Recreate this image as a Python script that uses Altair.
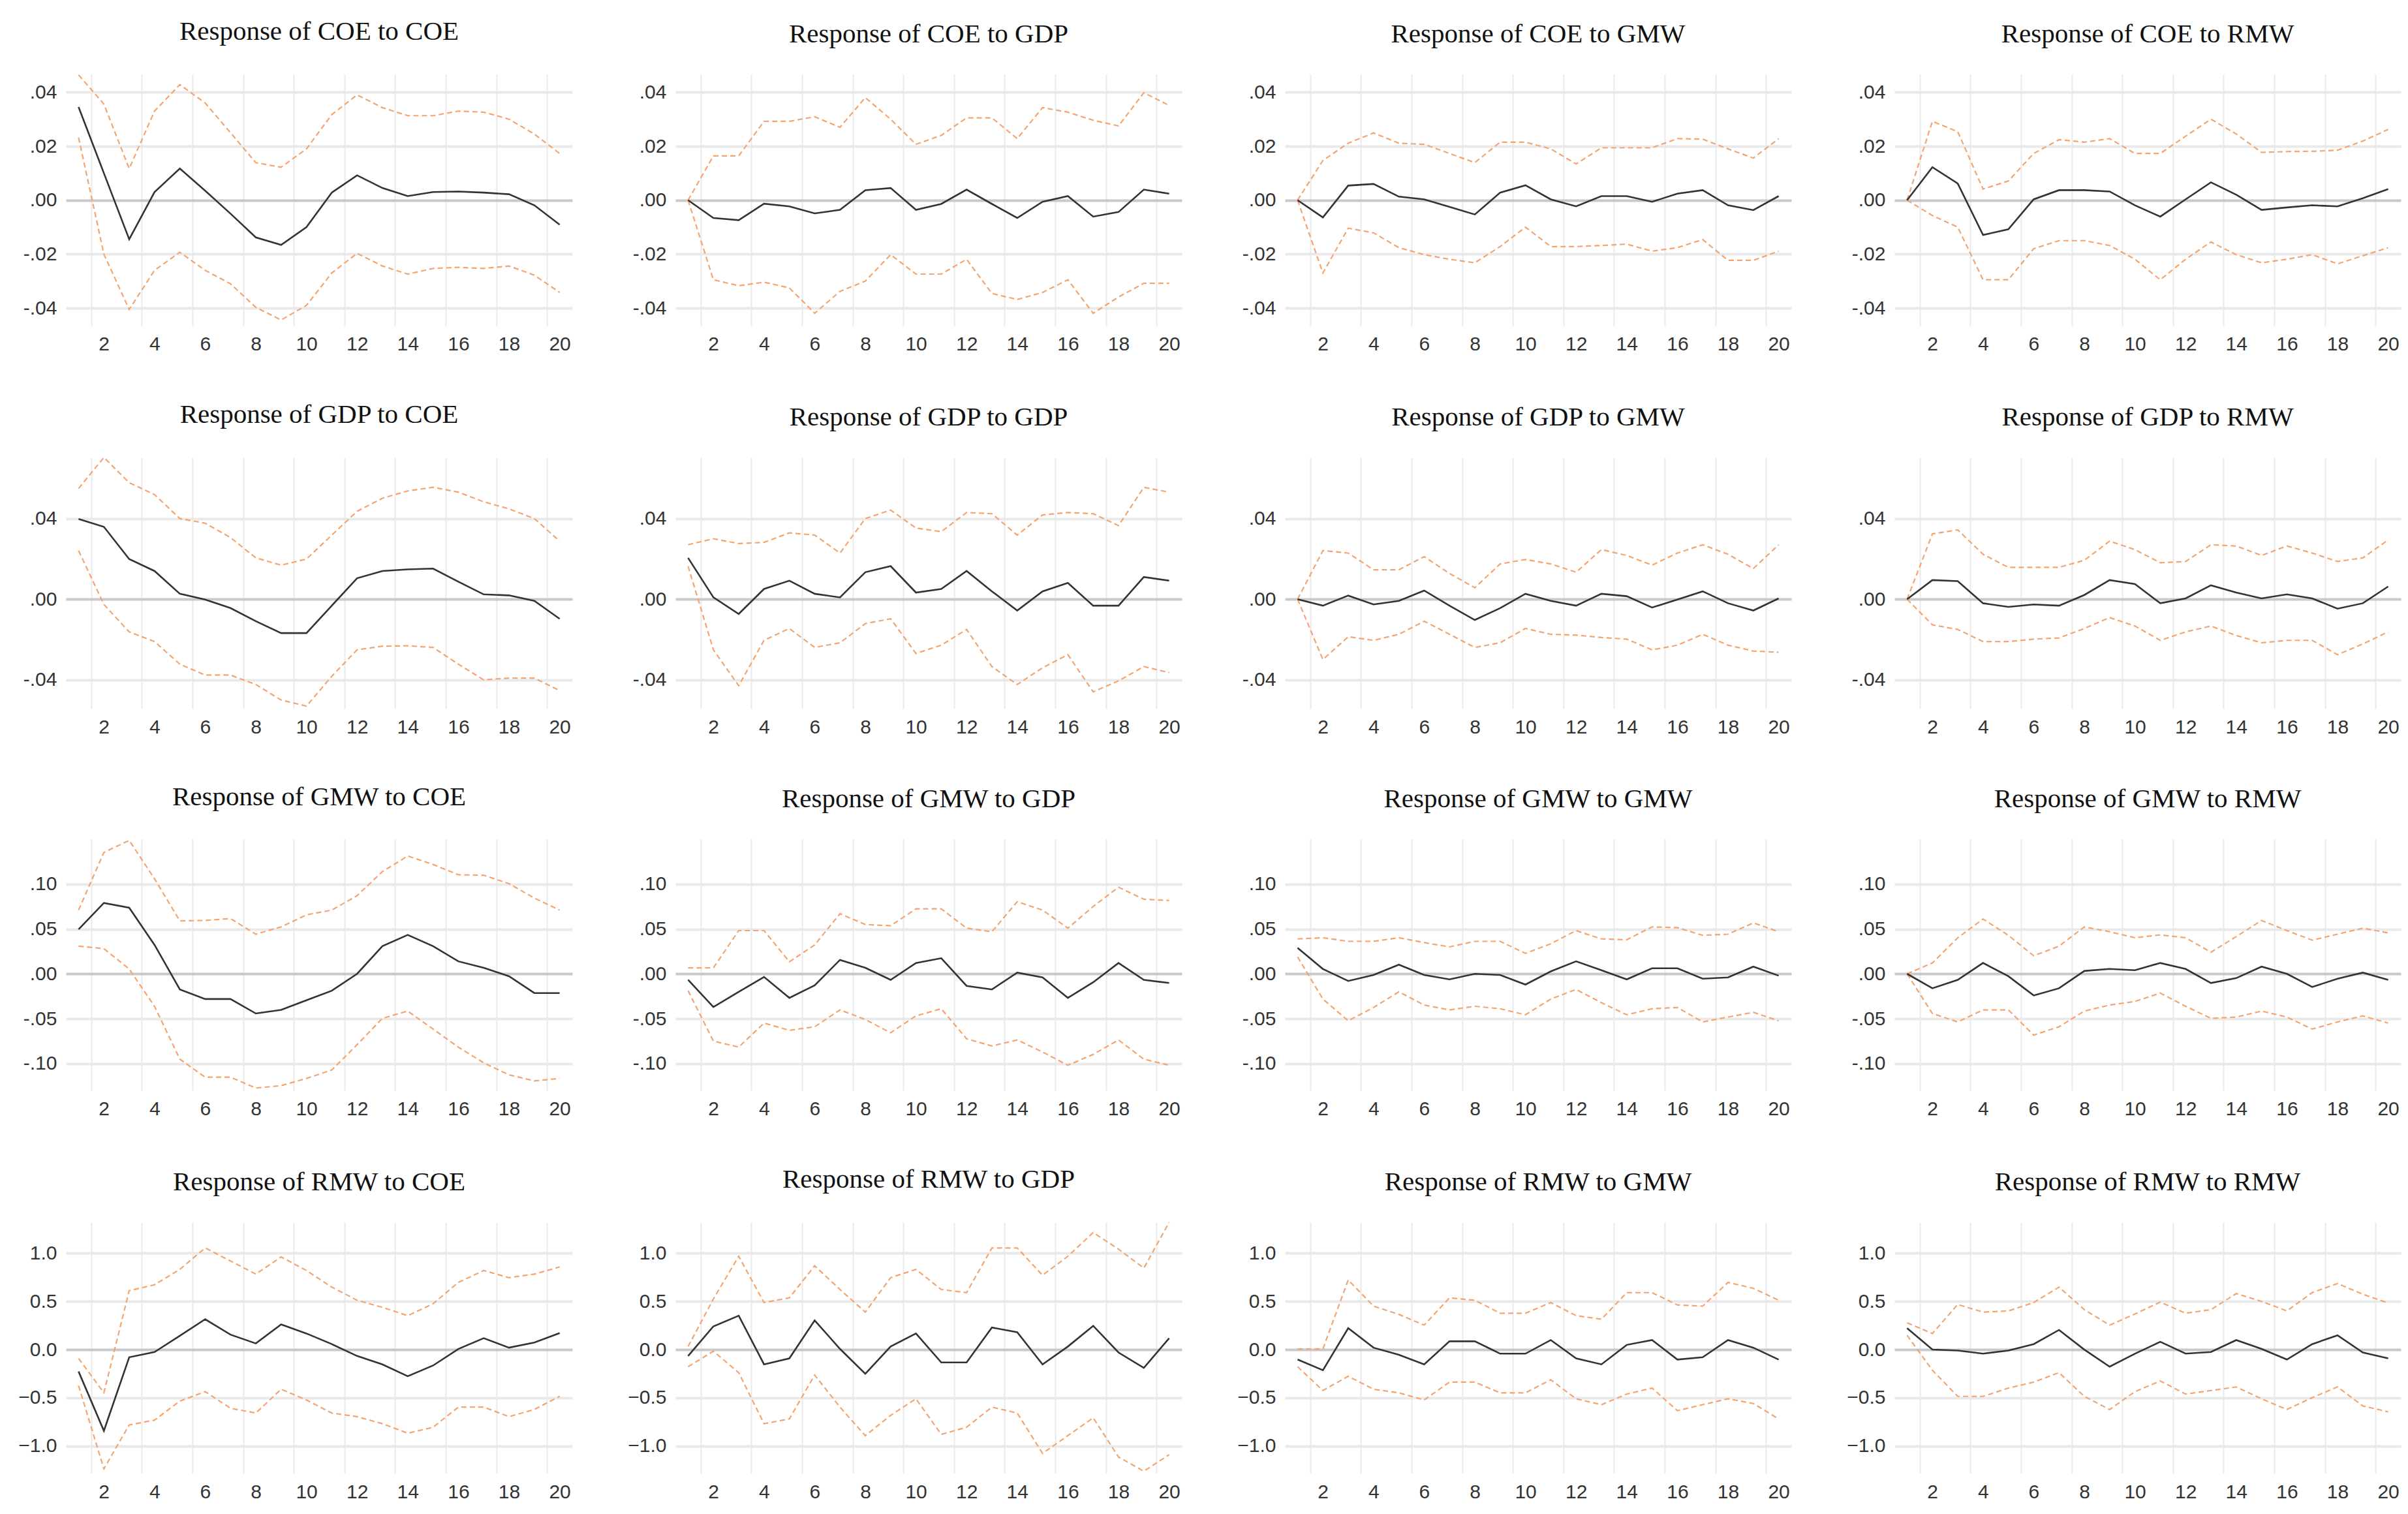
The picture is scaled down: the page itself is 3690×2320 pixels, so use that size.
import altair as alt
import pandas as pd

periods = list(range(1, 21))
variables = ["COE", "GDP", "GMW", "RMW"]

# ---- Response of COE ----
coe_coe_mid = [0.0345, 0.010, -0.0145, 0.003, 0.0117, 0.0035, -0.005, -0.0138, -0.0166, -0.010, 0.0028, 0.0092, 0.0045, 0.0015, 0.003, 0.0032, 0.0028, 0.0022, -0.0019, -0.0091]
coe_coe_up = [0.0464, 0.0356, 0.0117, 0.033, 0.0428, 0.036, 0.025, 0.0139, 0.0122, 0.019, 0.0317, 0.039, 0.0343, 0.0313, 0.0313, 0.033, 0.0326, 0.030, 0.0245, 0.0173]
coe_coe_lo = [0.0232, -0.020, -0.0405, -0.026, -0.0193, -0.026, -0.031, -0.0397, -0.0444, -0.039, -0.027, -0.0197, -0.0244, -0.0274, -0.0253, -0.0249, -0.0253, -0.0244, -0.0278, -0.0342]

coe_gdp_mid = [0.0, -0.0066, -0.0074, -0.0013, -0.0023, -0.0049, -0.0036, 0.0037, 0.0045, -0.0036, -0.0014, 0.0039, -0.0014, -0.0066, -0.0006, 0.0015, -0.0061, -0.0044, 0.0039, 0.0024]
coe_gdp_up = [0.0, 0.0164, 0.0164, 0.0292, 0.0292, 0.0309, 0.027, 0.038, 0.030, 0.0207, 0.024, 0.0305, 0.0305, 0.0228, 0.0343, 0.0326, 0.0296, 0.0275, 0.0398, 0.0351]
coe_gdp_lo = [0.0, -0.0295, -0.0317, -0.0304, -0.0325, -0.0419, -0.0338, -0.030, -0.0202, -0.0274, -0.0274, -0.0219, -0.0346, -0.0368, -0.0342, -0.0295, -0.0419, -0.0359, -0.0308, -0.0308]

coe_gmw_mid = [0.0, -0.0064, 0.0054, 0.006, 0.0013, 0.0003, -0.0025, -0.0053, 0.0028, 0.0055, 0.0003, -0.0023, 0.0015, 0.0015, -0.0006, 0.0024, 0.0037, -0.0019, -0.0037, 0.0015]
coe_gmw_up = [0.0, 0.0147, 0.0211, 0.0249, 0.0211, 0.0207, 0.0173, 0.0139, 0.0215, 0.0215, 0.019, 0.0134, 0.0194, 0.0194, 0.0194, 0.0228, 0.0226, 0.019, 0.0156, 0.0228]
coe_gmw_lo = [0.0, -0.027, -0.0104, -0.0121, -0.0176, -0.0202, -0.0219, -0.0232, -0.0172, -0.010, -0.0172, -0.0172, -0.0168, -0.0163, -0.0189, -0.0176, -0.0146, -0.0223, -0.0223, -0.0189]

coe_rmw_mid = [0.0, 0.0122, 0.0062, -0.0129, -0.0108, 0.0003, 0.0037, 0.0037, 0.0032, -0.0019, -0.0061, 0.0003, 0.0066, 0.002, -0.0036, -0.0027, -0.0019, -0.0023, 0.0007, 0.0041]
coe_rmw_up = [0.0, 0.0292, 0.0254, 0.0041, 0.0071, 0.0173, 0.0224, 0.0215, 0.0228, 0.0173, 0.0173, 0.0237, 0.030, 0.0245, 0.0177, 0.018, 0.0181, 0.0185, 0.0219, 0.0262]
coe_rmw_lo = [0.0, -0.0057, -0.010, -0.0295, -0.0295, -0.018, -0.015, -0.015, -0.0168, -0.0219, -0.0295, -0.0219, -0.0155, -0.0202, -0.0232, -0.0219, -0.0202, -0.0236, -0.0206, -0.0176]

# ---- Response of GDP ----
gdp_coe_mid = [0.0398, 0.0359, 0.0199, 0.014, 0.0027, -0.0002, -0.0044, -0.0109, -0.0168, -0.0168, -0.0032, 0.0104, 0.014, 0.0148, 0.0152, 0.0087, 0.0024, 0.0019, -0.0008, -0.0097]
gdp_coe_up = [0.0549, 0.0703, 0.0578, 0.0519, 0.040, 0.0377, 0.0306, 0.0205, 0.0169, 0.0199, 0.0318, 0.0436, 0.0501, 0.0537, 0.0555, 0.0531, 0.0483, 0.0448, 0.040, 0.0288]
gdp_coe_lo = [0.0241, -0.0026, -0.0162, -0.021, -0.0322, -0.0376, -0.0376, -0.0423, -0.050, -0.053, -0.0382, -0.0251, -0.0233, -0.0231, -0.0239, -0.0322, -0.040, -0.0391, -0.0391, -0.0453]

gdp_gdp_mid = [0.0205, 0.0009, -0.0073, 0.0051, 0.0092, 0.0027, 0.0009, 0.0134, 0.0164, 0.0033, 0.0051, 0.014, 0.0039, -0.0056, 0.0039, 0.0081, -0.0032, -0.0032, 0.011, 0.0092]
gdp_gdp_up = [0.027, 0.030, 0.0276, 0.0282, 0.0329, 0.0318, 0.0229, 0.040, 0.0442, 0.0353, 0.0335, 0.043, 0.0424, 0.0318, 0.0418, 0.043, 0.0424, 0.0365, 0.0555, 0.0531]
gdp_gdp_lo = [0.0164, -0.0251, -0.0429, -0.0204, -0.0145, -0.0239, -0.0216, -0.0121, -0.0097, -0.0269, -0.0228, -0.015, -0.0334, -0.0423, -0.034, -0.0275, -0.0459, -0.0405, -0.0334, -0.0364]

gdp_gmw_mid = [0.0, -0.0032, 0.0018, -0.0026, -0.0008, 0.0043, -0.0032, -0.0103, -0.0044, 0.0027, -0.0008, -0.0032, 0.0027, 0.0015, -0.0041, -0.0002, 0.0039, -0.002, -0.0056, 0.0004]
gdp_gmw_up = [0.0, 0.0241, 0.0229, 0.0146, 0.0146, 0.0211, 0.0128, 0.0057, 0.0175, 0.0197, 0.0175, 0.0134, 0.0246, 0.0217, 0.0169, 0.0229, 0.027, 0.0223, 0.0152, 0.027]
gdp_gmw_lo = [0.0, -0.0299, -0.0186, -0.0204, -0.0174, -0.0109, -0.0174, -0.0239, -0.0216, -0.0145, -0.0174, -0.0178, -0.019, -0.0198, -0.0251, -0.0228, -0.0174, -0.0228, -0.0257, -0.0263]

gdp_rmw_mid = [0.0, 0.0095, 0.009, -0.002, -0.0038, -0.0026, -0.0032, 0.0021, 0.0095, 0.0075, -0.002, 0.0004, 0.0069, 0.0033, 0.0004, 0.0024, 0.0004, -0.0047, -0.002, 0.0063]
gdp_rmw_up = [0.0, 0.0324, 0.0344, 0.0223, 0.0158, 0.0158, 0.0158, 0.0193, 0.0288, 0.0246, 0.0181, 0.0187, 0.027, 0.0264, 0.0217, 0.0264, 0.0229, 0.0187, 0.0205, 0.0294]
gdp_rmw_lo = [0.0, -0.0127, -0.015, -0.021, -0.021, -0.0198, -0.0192, -0.0145, -0.0091, -0.0133, -0.0204, -0.0162, -0.0133, -0.018, -0.0216, -0.0204, -0.0204, -0.0275, -0.0222, -0.0162]

# ---- Response of GMW ----
gmw_coe_mid = [0.0496, 0.079, 0.0737, 0.0322, -0.0174, -0.0281, -0.0281, -0.0442, -0.0402, -0.0295, -0.0188, 0.0, 0.0308, 0.0434, 0.0308, 0.0139, 0.0067, -0.0027, -0.0214, -0.0214]
gmw_coe_up = [0.071, 0.1353, 0.1487, 0.1059, 0.059, 0.0595, 0.0616, 0.0442, 0.0523, 0.0657, 0.071, 0.0871, 0.1139, 0.1313, 0.1219, 0.1104, 0.1099, 0.1005, 0.0844, 0.071]
gmw_coe_lo = [0.0308, 0.0281, 0.0054, -0.0362, -0.0951, -0.1152, -0.1152, -0.1273, -0.1246, -0.1166, -0.1072, -0.079, -0.0496, -0.0415, -0.0616, -0.0817, -0.0992, -0.1126, -0.1193, -0.1166]

gmw_gdp_mid = [-0.0067, -0.037, -0.0201, -0.0035, -0.0268, -0.0129, 0.0155, 0.0067, -0.0067, 0.0121, 0.0174, -0.0134, -0.0174, 0.0013, -0.004, -0.0268, -0.0094, 0.0121, -0.0067, -0.0102]
gmw_gdp_up = [0.0067, 0.0067, 0.0482, 0.0482, 0.0134, 0.0322, 0.067, 0.0549, 0.0536, 0.0724, 0.0724, 0.0509, 0.0469, 0.0804, 0.071, 0.0509, 0.075, 0.0965, 0.0831, 0.0817]
gmw_gdp_lo = [-0.0188, -0.075, -0.0817, -0.0549, -0.063, -0.059, -0.0402, -0.0509, -0.0657, -0.0469, -0.0389, -0.0724, -0.0804, -0.0737, -0.0871, -0.1019, -0.0898, -0.0737, -0.0951, -0.1019]

gmw_gmw_mid = [0.0289, 0.0054, -0.008, -0.0013, 0.0102, -0.0013, -0.0062, 0.0, -0.0013, -0.012, 0.0027, 0.0139, 0.004, -0.0062, 0.0062, 0.0062, -0.0054, -0.004, 0.008, -0.0021]
gmw_gmw_up = [0.0389, 0.0402, 0.0362, 0.0362, 0.0402, 0.0348, 0.030, 0.0362, 0.0362, 0.0228, 0.0335, 0.0482, 0.0389, 0.038, 0.0523, 0.0515, 0.0429, 0.0442, 0.0568, 0.0469]
gmw_gmw_lo = [0.0188, -0.0281, -0.0523, -0.0375, -0.0201, -0.0348, -0.0402, -0.0362, -0.0389, -0.0456, -0.0281, -0.0174, -0.0322, -0.0456, -0.0389, -0.0375, -0.0536, -0.0482, -0.0429, -0.0523]

gmw_rmw_mid = [0.0, -0.0161, -0.0067, 0.0121, -0.0027, -0.0241, -0.0161, 0.0032, 0.0054, 0.004, 0.0121, 0.0054, -0.0102, -0.0048, 0.008, 0.0, -0.0147, -0.0054, 0.0013, -0.0067]
gmw_rmw_up = [0.0, 0.0121, 0.0402, 0.0611, 0.0429, 0.0201, 0.0308, 0.0523, 0.0469, 0.0402, 0.0434, 0.0402, 0.0241, 0.0415, 0.0595, 0.0482, 0.0375, 0.0442, 0.0509, 0.0456]
gmw_rmw_lo = [0.0, -0.0442, -0.0536, -0.0402, -0.0402, -0.0683, -0.059, -0.0415, -0.0348, -0.0308, -0.0214, -0.0362, -0.0496, -0.0482, -0.0415, -0.0482, -0.0616, -0.0536, -0.0469, -0.0549]

# ---- Response of RMW ----
rmw_coe_mid = [-0.227, -0.842, -0.079, -0.025, 0.143, 0.315, 0.155, 0.064, 0.261, 0.167, 0.057, -0.066, -0.153, -0.276, -0.165, 0.007, 0.118, 0.02, 0.074, 0.172]
rmw_coe_up = [-0.091, -0.448, 0.611, 0.672, 0.832, 1.054, 0.919, 0.783, 0.961, 0.82, 0.648, 0.512, 0.438, 0.352, 0.475, 0.697, 0.82, 0.746, 0.783, 0.857]
rmw_coe_lo = [-0.374, -1.236, -0.781, -0.731, -0.534, -0.436, -0.608, -0.658, -0.411, -0.522, -0.658, -0.695, -0.768, -0.867, -0.805, -0.596, -0.596, -0.695, -0.621, -0.485]

rmw_gdp_mid = [-0.066, 0.241, 0.352, -0.153, -0.091, 0.303, 0.007, -0.251, 0.032, 0.167, -0.133, -0.133, 0.229, 0.18, -0.153, 0.032, 0.246, -0.03, -0.19, 0.118]
rmw_gdp_up = [0.032, 0.525, 0.968, 0.488, 0.537, 0.869, 0.623, 0.389, 0.746, 0.832, 0.623, 0.591, 1.054, 1.054, 0.771, 0.968, 1.214, 1.042, 0.845, 1.32]
rmw_gdp_lo = [-0.177, -0.017, -0.239, -0.768, -0.719, -0.264, -0.596, -0.892, -0.682, -0.51, -0.879, -0.805, -0.596, -0.658, -1.076, -0.892, -0.707, -1.113, -1.261, -1.089]

rmw_gmw_mid = [-0.103, -0.214, 0.222, 0.02, -0.054, -0.153, 0.086, 0.086, -0.042, -0.042, 0.099, -0.091, -0.153, 0.049, 0.099, -0.103, -0.079, 0.099, 0.02, -0.103]
rmw_gmw_up = [0.007, 0.007, 0.722, 0.451, 0.365, 0.254, 0.537, 0.512, 0.377, 0.377, 0.488, 0.352, 0.315, 0.591, 0.591, 0.463, 0.451, 0.697, 0.635, 0.512]
rmw_gmw_lo = [-0.177, -0.424, -0.276, -0.411, -0.448, -0.522, -0.337, -0.337, -0.448, -0.448, -0.313, -0.51, -0.571, -0.461, -0.399, -0.633, -0.571, -0.51, -0.559, -0.719]

rmw_rmw_mid = [0.222, 0.0, -0.01, -0.042, -0.01, 0.057, 0.204, 0.0, -0.177, -0.042, 0.081, -0.042, -0.025, 0.099, 0.007, -0.103, 0.057, 0.148, -0.03, -0.091]
rmw_rmw_up = [0.278, 0.167, 0.468, 0.389, 0.401, 0.488, 0.648, 0.414, 0.254, 0.369, 0.493, 0.377, 0.414, 0.581, 0.5, 0.401, 0.591, 0.685, 0.574, 0.483]
rmw_rmw_lo = [0.148, -0.214, -0.485, -0.485, -0.399, -0.337, -0.239, -0.485, -0.621, -0.436, -0.325, -0.461, -0.424, -0.387, -0.51, -0.621, -0.498, -0.387, -0.584, -0.645]

# axis settings per responding variable (row)
row_ticks = {
    "COE": [-0.04, -0.02, 0.0, 0.02, 0.04],
    "GDP": [-0.04, 0.0, 0.04],
    "GMW": [-0.10, -0.05, 0.0, 0.05, 0.10],
    "RMW": [-1.0, -0.5, 0.0, 0.5, 1.0],
}
row_domain = {
    "COE": [-0.0465, 0.0466],
    "GDP": [-0.0543, 0.0703],
    "GMW": [-0.130, 0.150],
    "RMW": [-1.285, 1.32],
}
x_label_values = [2, 4, 6, 8, 10, 12, 14, 16, 18, 20]
x_grid_values = [1.5, 3.5, 5.5, 7.5, 9.5, 11.5, 13.5, 15.5, 17.5, 19.5]

DATA = {
    ("COE", "COE"): (coe_coe_mid, coe_coe_up, coe_coe_lo),
    ("COE", "GDP"): (coe_gdp_mid, coe_gdp_up, coe_gdp_lo),
    ("COE", "GMW"): (coe_gmw_mid, coe_gmw_up, coe_gmw_lo),
    ("COE", "RMW"): (coe_rmw_mid, coe_rmw_up, coe_rmw_lo),
    ("GDP", "COE"): (gdp_coe_mid, gdp_coe_up, gdp_coe_lo),
    ("GDP", "GDP"): (gdp_gdp_mid, gdp_gdp_up, gdp_gdp_lo),
    ("GDP", "GMW"): (gdp_gmw_mid, gdp_gmw_up, gdp_gmw_lo),
    ("GDP", "RMW"): (gdp_rmw_mid, gdp_rmw_up, gdp_rmw_lo),
    ("GMW", "COE"): (gmw_coe_mid, gmw_coe_up, gmw_coe_lo),
    ("GMW", "GDP"): (gmw_gdp_mid, gmw_gdp_up, gmw_gdp_lo),
    ("GMW", "GMW"): (gmw_gmw_mid, gmw_gmw_up, gmw_gmw_lo),
    ("GMW", "RMW"): (gmw_rmw_mid, gmw_rmw_up, gmw_rmw_lo),
    ("RMW", "COE"): (rmw_coe_mid, rmw_coe_up, rmw_coe_lo),
    ("RMW", "GDP"): (rmw_gdp_mid, rmw_gdp_up, rmw_gdp_lo),
    ("RMW", "GMW"): (rmw_gmw_mid, rmw_gmw_up, rmw_gmw_lo),
    ("RMW", "RMW"): (rmw_rmw_mid, rmw_rmw_up, rmw_rmw_lo),
}

ORANGE = "#F4A46E"
DARK = "#333333"
LABEL_FONT = "Liberation Sans"
TITLE_FONT = "Liberation Serif"

W, H = 776, 385

dot_expr = ("datum.value < 0 ? '-' + substring(format(-datum.value, '.2f'), 1) "
            ": substring(format(datum.value, '.2f'), 1)")
one_expr = "format(datum.value, '.1f')"


def make_panel(resp, imp):
    mid, up, lo = DATA[(resp, imp)]
    df_mid = pd.DataFrame({"period": periods, "value": mid})
    df_band = pd.DataFrame({
        "period": periods + periods,
        "value": up + lo,
        "band": ["upper"] * len(up) + ["lower"] * len(lo),
    })
    xs = alt.Scale(domain=[0.5, 20.5], nice=False, zero=False)
    ys = alt.Scale(domain=row_domain[resp], nice=False, zero=False)
    yaxis = alt.Axis(
        values=row_ticks[resp],
        labelExpr=one_expr if resp == "RMW" else dot_expr,
        grid=True,
        gridColor={"condition": {"test": "datum.value === 0", "value": "#c9c9c9"}, "value": "#e9e9e9"},
        gridWidth=4,
        ticks=False,
        domain=False,
        labelPadding=14,
        labelFontSize=30,
        labelFont=LABEL_FONT,
        labelColor=DARK,
        minExtent=75,
        maxExtent=75,
        title=None,
    )
    grid_axis = alt.Axis(
        values=x_grid_values, orient="top", labels=False, ticks=False, domain=False,
        grid=True, gridColor="#e9e9e9", gridWidth=2, title=None, minExtent=0, maxExtent=0,
    )
    label_axis = alt.Axis(
        values=x_label_values, grid=False, ticks=False, domain=False, labelPadding=13,
        labelFontSize=30, labelFont=LABEL_FONT, labelColor=DARK, title=None,
        minExtent=45, maxExtent=45,
    )
    bands = alt.Chart(df_band).mark_line(
        color=ORANGE, strokeWidth=2.2, strokeDash=[8, 5]
    ).encode(
        x=alt.X("period:Q", scale=xs, axis=grid_axis),
        y=alt.Y("value:Q", scale=ys, axis=yaxis),
        detail="band:N",
    )
    center = alt.Chart(df_mid).mark_line(color=DARK, strokeWidth=2.6).encode(
        x=alt.X("period:Q", scale=xs, axis=label_axis),
        y=alt.Y("value:Q", scale=ys, axis=yaxis),
    )
    return alt.layer(bands, center).resolve_axis(x="independent").properties(
        width=W,
        height=H,
        title=alt.TitleParams(
            text=f"Response of {resp} to {imp}",
            font=TITLE_FONT, fontSize=41, fontWeight="normal", color="#111111",
            anchor="middle", offset=40,
        ),
    )


rows = [alt.hconcat(*[make_panel(r, i) for i in variables], spacing=83) for r in variables]
chart = alt.vconcat(*rows, spacing=70).properties(
    padding={"left": 18, "top": 20, "right": 2, "bottom": 5}
).configure(background="white").configure_view(stroke=None)

chart.save("out.html", embed_options={"renderer": "svg", "actions": False})
